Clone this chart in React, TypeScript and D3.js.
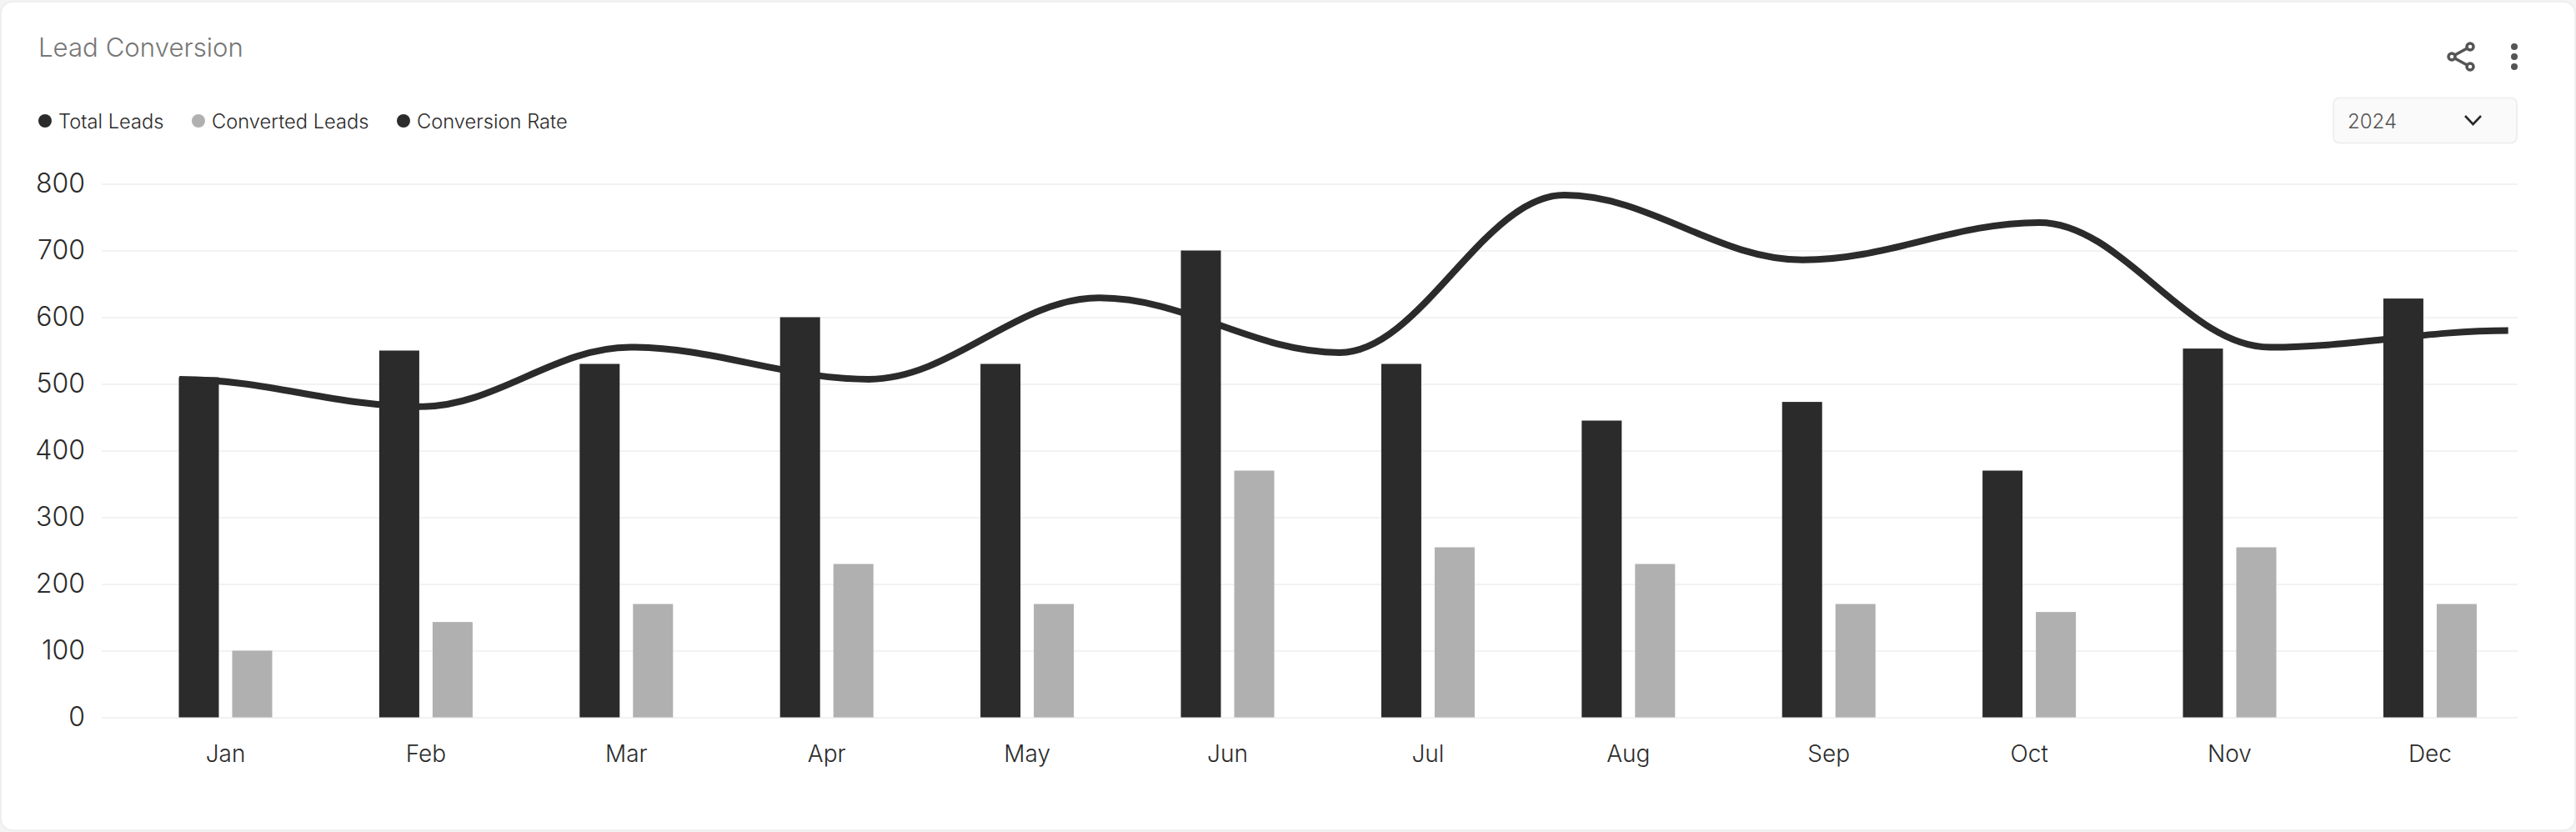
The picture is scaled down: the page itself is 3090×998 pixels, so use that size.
import * as d3 from "d3";
import { useEffect, useRef } from "react";

const months = ["Jan", "Feb", "Mar", "Apr", "May", "Jun", "Jul", "Aug", "Sep", "Oct", "Nov", "Dec"];
const totalLeads = [510, 550, 530, 600, 530, 700, 530, 445, 473, 370, 553, 628];
const convertedLeads = [100, 143, 170, 230, 170, 370, 255, 230, 170, 158, 255, 170];
// the rate line has 11 points and they don't sit on the months: position is in months from Jan
const ratePositions = [-0.23, 0.975, 2.02, 3.21, 4.36, 5.56, 6.68, 7.87, 9.05, 10.2, 11.39];
const conversionRate = [507, 466, 555, 507, 629, 547, 783, 686, 742, 555, 580];
const yTicks = [0, 100, 200, 300, 400, 500, 600, 700, 800];
const legendItems = ["Total Leads", "Converted Leads", "Conversion Rate"];
const legendDotX = [54, 238, 484];

const FONT = "Inter, 'Noto Sans', sans-serif";
const DARK = "#2b2b2b";
const GREY = "#b0b0b0";
const WIDTH = 3090;
const HEIGHT = 998;

// flat tangent at every point, tighter than curveBumpX
const flatCurve = (context: any) => {
  let n = 0;
  let x0 = 0;
  let y0 = 0;
  return {
    areaStart() {},
    areaEnd() {},
    lineStart() {
      n = 0;
    },
    lineEnd() {},
    point(px: number, py: number) {
      if (n++ === 0) {
        context.moveTo(px, py);
      } else {
        const k = (px - x0) * 0.36;
        context.bezierCurveTo(x0 + k, y0, px - k, py, px, py);
      }
      x0 = px;
      y0 = py;
    },
  };
};

export default function App() {
  const svgRef = useRef<SVGSVGElement>(null);

  useEffect(() => {
    const svg = d3.select(svgRef.current);
    svg.selectAll("*").remove();

    const y = d3.scaleLinear().domain([0, 800]).range([860.5, 220.5]);
    const x = d3.scaleBand<string>().domain(months).range([150.3, 3035.1]);
    const series = d3.scaleBand<string>().domain(["total", "converted"]).range([-56, 56]).paddingInner(0.25);
    const center = (m: string) => (x(m) as number) + x.bandwidth() / 2;
    const lineX = d3.scaleLinear().domain([0, months.length - 1]).range([center("Jan"), center("Dec")]);

    // card
    svg.append("rect").attr("width", WIDTH).attr("height", HEIGHT).attr("fill", "#f4f4f4");
    svg
      .append("rect")
      .attr("x", 1)
      .attr("y", 2)
      .attr("width", WIDTH - 2)
      .attr("height", HEIGHT - 4)
      .attr("rx", 14)
      .attr("fill", "#fff")
      .attr("stroke", "#ececec")
      .attr("stroke-width", 1.5);

    // title
    svg
      .append("text")
      .attr("x", 46)
      .attr("y", 68)
      .attr("font-family", FONT)
      .attr("font-size", 31.2)
      .attr("font-weight", 300)
      .attr("fill", "#777")
      .text("Lead Conversion");

    // legend
    const legend = svg.append("g").selectAll("g").data(legendItems).join("g");
    legend
      .append("circle")
      .attr("cx", (_, i) => legendDotX[i])
      .attr("cy", 145)
      .attr("r", 8)
      .attr("fill", (_, i) => (i === 1 ? GREY : DARK));
    legend
      .append("text")
      .attr("x", (_, i) => legendDotX[i] + 16)
      .attr("y", 154)
      .attr("font-family", FONT)
      .attr("font-size", 23.7)
      .attr("font-weight", 300)
      .attr("fill", DARK)
      .text((d) => d);

    // share icon
    const share = svg
      .append("g")
      .attr("fill", "#fff")
      .attr("stroke", "#555")
      .attr("stroke-width", 3.5);
    share.append("path").attr("d", "M2963 56L2941 68L2963 80").attr("fill", "none");
    share.append("circle").attr("cx", 2963).attr("cy", 56).attr("r", 4);
    share.append("circle").attr("cx", 2941).attr("cy", 68).attr("r", 4);
    share.append("circle").attr("cx", 2963).attr("cy", 80).attr("r", 4);

    // more icon
    svg
      .append("g")
      .attr("fill", "#555")
      .selectAll("circle")
      .data([56, 68, 80])
      .join("circle")
      .attr("cx", 3016)
      .attr("cy", (d) => d)
      .attr("r", 4);

    // year select
    svg
      .append("rect")
      .attr("x", 2799)
      .attr("y", 117.5)
      .attr("width", 220)
      .attr("height", 54)
      .attr("rx", 7)
      .attr("fill", "#fafafa")
      .attr("stroke", "#efefef")
      .attr("stroke-width", 2);
    svg
      .append("text")
      .attr("x", 2816)
      .attr("y", 154)
      .attr("font-family", FONT)
      .attr("font-size", 24)
      .attr("font-weight", 300)
      .attr("fill", "#555")
      .text("2024");
    svg
      .append("path")
      .attr("d", "M2957 139L2966.5 149L2976 139")
      .attr("fill", "none")
      .attr("stroke", DARK)
      .attr("stroke-width", 2.6);

    // y axis + grid
    const yAxis = svg
      .append("g")
      .attr("transform", "translate(122,0)")
      .call(d3.axisLeft(y).tickValues(yTicks).tickSize(-2898).tickPadding(20));
    yAxis.select(".domain").remove();
    yAxis.selectAll(".tick line").attr("stroke", "#f2f2f2").attr("stroke-width", 2);
    yAxis
      .selectAll(".tick text")
      .attr("font-family", FONT)
      .attr("font-size", 32)
      .attr("font-weight", 300)
      .attr("fill", DARK);

    // x axis
    const xAxis = svg
      .append("g")
      .attr("transform", "translate(0,860.5)")
      .call(d3.axisBottom(x).tickSize(0));
    xAxis.select(".domain").remove();
    xAxis
      .selectAll(".tick text")
      .attr("y", 53.5)
      .attr("dy", 0)
      .attr("font-family", FONT)
      .attr("font-size", 28)
      .attr("font-weight", 300)
      .attr("fill", DARK);

    // bars
    const drawBars = (values: number[], key: string, color: string) => {
      svg
        .append("g")
        .selectAll("rect")
        .data(values)
        .join("rect")
        .attr("x", (_, i) => center(months[i]) + (series(key) as number))
        .attr("y", (d) => y(d))
        .attr("width", series.bandwidth())
        .attr("height", (d) => y(0) - y(d))
        .attr("fill", color);
    };
    drawBars(totalLeads, "total", DARK);
    drawBars(convertedLeads, "converted", GREY);

    // rate line
    const rateLine = d3
      .line<number>()
      .x((_, i) => lineX(ratePositions[i]))
      .y((d) => y(d))
      .curve(flatCurve as any);
    svg
      .append("path")
      .datum(conversionRate)
      .attr("d", rateLine)
      .attr("fill", "none")
      .attr("stroke", DARK)
      .attr("stroke-width", 8);
  }, []);

  return (
    <svg
      ref={svgRef}
      width={WIDTH}
      height={HEIGHT}
      viewBox={`0 0 ${WIDTH} ${HEIGHT}`}
      style={{ position: "absolute", left: 0, top: 0, display: "block" }}
    />
  );
}
